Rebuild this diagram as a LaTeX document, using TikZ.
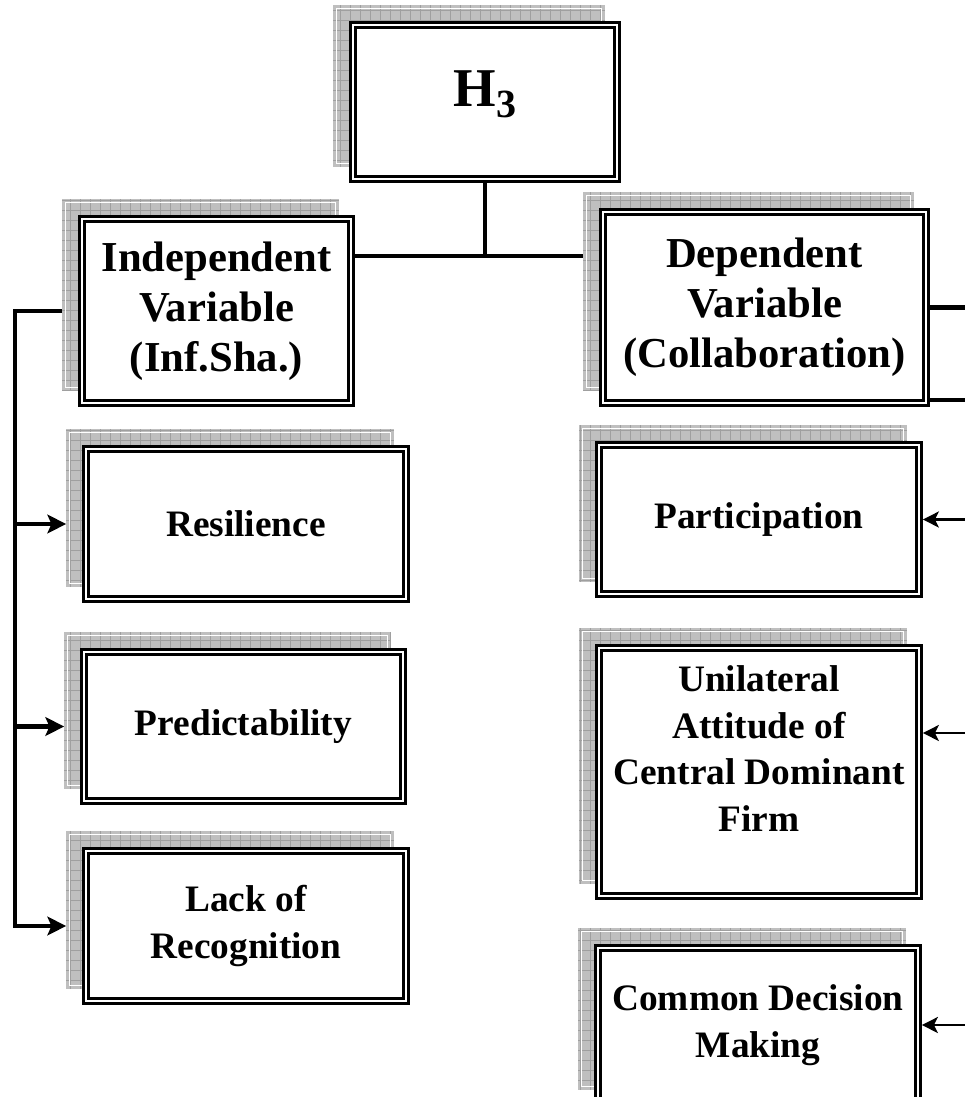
\documentclass[tikz,border=0pt]{standalone}
\usepackage{fontspec}
\setmainfont{Liberation Serif}
\usetikzlibrary{arrows.meta}

\pgfdeclarelayer{lines}
\pgfdeclarelayer{shades}
\pgfsetlayers{lines,shades,main}

\begin{document}
\begin{tikzpicture}[x=0.75pt, y=-0.75pt, >={Stealth[length=14pt, width=14pt, inset=3pt]},
    hopbox/.style={draw, fill=white, line width=1.8pt, double, double distance=2.2pt,
        inner sep=0pt, outer sep=2.9pt, align=center,
        font=\bfseries\fontsize{28}{35}\selectfont},
    headbox/.style={hopbox, font=\bfseries\fontsize{32}{37.5}\selectfont},
    boxsize/.style 2 args={minimum width=#1*0.75pt, minimum height=#2*0.75pt},
    link/.style={line width=3.2pt},
    feed/.style={line width=2pt, >={Stealth[length=12pt, width=12pt, inset=3pt]}},
    shadefill/.style={fill=gray!50},
    shadegrid/.style={draw=gray!75, line width=0.5pt}]
    \useasboundingbox (0,0) rectangle (965,1097);

    % Giả thuyết H3 ở trên cùng
    \node[headbox, boxsize={264}{154}, font=\bfseries\fontsize{41}{41}\selectfont] (hyp)
        at (485,102) {H\raisebox{-8pt}{\fontsize{30}{30}\selectfont 3}\rule[-20pt]{0pt}{0pt}};

    % Hai biến chính
    \node[headbox, boxsize={269}{184}] (indep) at (216.5,311) {Independent\\Variable\\(Inf.Sha.)};
    \node[headbox, boxsize={323}{191}] (dep) at (764.5,307.5) {Dependent\\Variable\\(Collaboration)};

    % Cột trái: các thành phần của biến độc lập
    \node[hopbox, boxsize={320}{150}] (resil) at (246,524) {Resilience};
    \node[hopbox, boxsize={319}{149}] (predict) at (243.5,726.5) {Predictability};
    \node[hopbox, boxsize={320}{150}] (lack) at (246,926) {Lack of\\Recognition};

    % Cột phải: các thành phần của biến phụ thuộc
    \node[hopbox, boxsize={320}{149}] (partic) at (759,519.5) {Participation};
    \node[hopbox, boxsize={320}{248}] (unilat) at (759,772) {Unilateral\\Attitude of\\Central Dominant\\Firm\\~};
    \node[hopbox, boxsize={320}{154}] (common) at (758,1025) {Common Decision\\Making};

    % Bóng lưới phía sau mỗi hộp
    \begin{pgfonlayer}{shades}
        \foreach \n in {hyp,indep,dep,resil,predict,lack,partic,unilat,common} {
            \coordinate (a) at ([shift={(-16,-16)}]\n.north west);
            \coordinate (b) at ([shift={(-16,-16)}]\n.south east);
            \fill[shadefill] (a) rectangle (b);
            \draw[shadegrid, step=7.5pt] (a |- b) grid (b |- a);
            \draw[white, line width=0.6pt] ([shift={(3,3)}]a) rectangle ([shift={(-3,-3)}]b);
        }
    \end{pgfonlayer}

    % Các đường nối
    \coordinate (jn) at (488,256);
    \coordinate (rail) at (15,0);
    \coordinate (edge) at (965,0);
    \coordinate (dep2) at ([shift={(0,-7)}]dep.south east);
    \coordinate (uni2) at ([shift={(0,-39)}]unilat.east);
    \begin{pgfonlayer}{lines}
        \draw[link] (hyp.south) -- (hyp.south |- jn);
        \draw[link] (indep.east |- jn) -- (dep.west |- jn);

        % Nhánh trái có mũi tên
        \draw[link, ->] (indep.west) -- (indep.west -| rail) -- (rail |- lack.west)
            -- ([shift={(-16,0)}]lack.west);
        \draw[link, ->] (rail |- resil.west) -- ([shift={(-16,0)}]resil.west);
        \draw[link, ->] (rail |- predict.west) -- ([shift={(-16,0)}]predict.west);

        % Nhánh phải đi ra mép hình
        \draw[link] (dep.east) -- (dep.east -| edge);
        \draw[link] (dep2) -- (dep2 -| edge);
        \draw[feed, <-] (partic.east) -- (partic.east -| edge);
        \draw[feed, <-] (uni2) -- (uni2 -| edge);
        \draw[feed, <-] (common.east) -- (common.east -| edge);
    \end{pgfonlayer}
\end{tikzpicture}
\end{document}
